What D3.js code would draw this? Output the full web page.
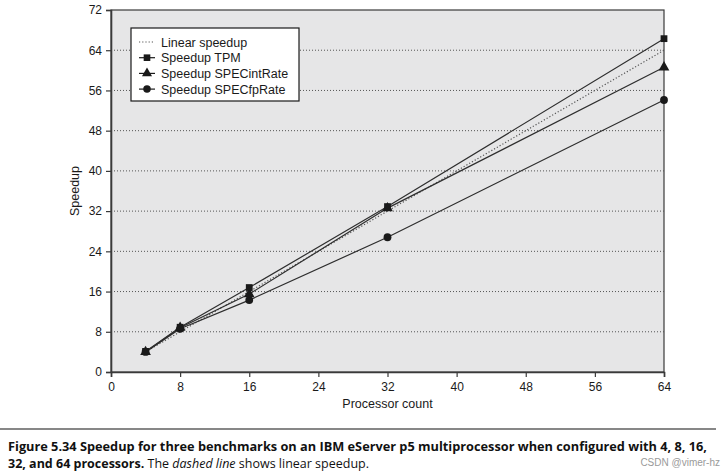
<!DOCTYPE html>
<html>
<head>
<meta charset="utf-8">
<script src="https://cdn.jsdelivr.net/npm/d3@7"></script>
<style>
  body { margin: 0; background: #fff; }
  svg text { font-family: "Liberation Sans", Arial, sans-serif; }
</style>
</head>
<body>
<svg id="chart" width="727" height="473"></svg>
<script>
// data
const procs = [4, 8, 16, 32, 64];
const linear = [4, 64];
const tpm = [4.1, 8.9, 16.8, 32.9, 66.3];
const specInt = [4.0, 8.8, 15.5, 32.6, 60.6];
const specFp = [4.0, 8.6, 14.3, 26.8, 54.1];
const xTicks = [0, 8, 16, 24, 32, 40, 48, 56, 64];
const yTicks = [0, 8, 16, 24, 32, 40, 48, 56, 64, 72];
const legendNames = ["Linear speedup", "Speedup TPM", "Speedup SPECintRate", "Speedup SPECfpRate"];

const svg = d3.select("#chart");
const pL = 111, pR = 664, pT = 10, pB = 372;

const x = d3.scaleLinear().domain([0, 64]).range([pL, pR]);
const y = d3.scaleLinear().domain([0, 72]).range([pB, pT]);

// plot background
svg.append("rect")
  .attr("x", pL).attr("y", pT)
  .attr("width", pR - pL).attr("height", pB - pT)
  .attr("fill", "#e6e6e7")
  .attr("stroke", "#3a3a3a").attr("stroke-width", 1.2);

// dotted grid
svg.append("g").selectAll("line")
  .data(yTicks.filter(d => d > 0 && d < 72))
  .enter().append("line")
  .attr("x1", pL).attr("x2", pR)
  .attr("y1", d => y(d)).attr("y2", d => y(d))
  .attr("stroke", "#555").attr("stroke-width", 1)
  .attr("stroke-dasharray", "1,2");

// axes
const xAxis = svg.append("g")
  .attr("transform", "translate(0," + pB + ")")
  .call(d3.axisBottom(x).tickValues(xTicks).tickSize(5).tickPadding(5));
const yAxis = svg.append("g")
  .attr("transform", "translate(" + pL + ",0)")
  .call(d3.axisLeft(y).tickValues(yTicks).tickSize(5).tickPadding(4));
[xAxis, yAxis].forEach(g => {
  g.select(".domain").attr("stroke", "#3a3a3a").attr("stroke-width", 1.6);
  g.selectAll(".tick line").attr("stroke", "#3a3a3a").attr("stroke-width", 1.2);
  g.selectAll(".tick text").attr("fill", "#1a1a1a")
    .style("font-family", "'Liberation Sans', Arial, sans-serif").style("font-size", "12px");
});

svg.append("text")
  .attr("x", (pL + pR) / 2).attr("y", 408)
  .attr("text-anchor", "middle").attr("fill", "#1a1a1a")
  .style("font-size", "12.5px").text("Processor count");
svg.append("text")
  .attr("transform", "translate(79," + ((pT + pB) / 2) + ") rotate(-90)")
  .attr("text-anchor", "middle").attr("fill", "#1a1a1a")
  .style("font-size", "12.5px").text("Speedup");

// lines
const line = d3.line().x(d => x(d[0])).y(d => y(d[1]));
svg.append("path")
  .attr("d", line([[4, linear[0]], [64, linear[1]]]))
  .attr("fill", "none").attr("stroke", "#555")
  .attr("stroke-width", 1.2).attr("stroke-dasharray", "1.2,2");

const series = [
  { vals: specFp, sym: d3.symbolCircle, size: 48 },
  { vals: specInt, sym: d3.symbolTriangle, size: 50 },
  { vals: tpm, sym: d3.symbolSquare, size: 46 }
];
series.forEach(s => {
  svg.append("path")
    .attr("d", line(procs.map((p, i) => [p, s.vals[i]])))
    .attr("fill", "none").attr("stroke", "#2e2e2e").attr("stroke-width", 1.2);
});
series.forEach(s => {
  svg.append("g").selectAll("path")
    .data(procs.map((p, i) => [p, s.vals[i]]))
    .enter().append("path")
    .attr("transform", d => "translate(" + x(d[0]) + "," + y(d[1]) + ")")
    .attr("d", d3.symbol().type(s.sym).size(s.size))
    .attr("fill", "#1a1a1a");
});

// legend
const lg = svg.append("g");
lg.append("rect")
  .attr("x", 131).attr("y", 28).attr("width", 168).attr("height", 73)
  .attr("fill", "#fff").attr("stroke", "#1a1a1a").attr("stroke-width", 1.2);
const legSyms = [null, d3.symbolSquare, d3.symbolTriangle, d3.symbolCircle];
legendNames.forEach((name, i) => {
  const ly = 42 + i * 15.7;
  lg.append("line")
    .attr("x1", 139).attr("x2", 155).attr("y1", ly).attr("y2", ly)
    .attr("stroke", i === 0 ? "#555" : "#1a1a1a")
    .attr("stroke-width", 1.2)
    .attr("stroke-dasharray", i === 0 ? "1.2,2" : null);
  if (legSyms[i]) {
    lg.append("path")
      .attr("transform", "translate(147," + ly + ")")
      .attr("d", d3.symbol().type(legSyms[i]).size(44))
      .attr("fill", "#1a1a1a");
  }
  lg.append("text")
    .attr("x", 161).attr("y", ly + 4.5)
    .attr("fill", "#1a1a1a").style("font-size", "12.5px")
    .text(name);
});

// caption
svg.append("line")
  .attr("x1", 0).attr("x2", 716).attr("y1", 429).attr("y2", 429)
  .attr("stroke", "#111").attr("stroke-width", 1.2);
const cap1 = svg.append("text")
  .attr("x", 8).attr("y", 451).attr("fill", "#111")
  .style("font-family", "'Open Sans', 'Noto Sans', sans-serif").style("font-size", "12px")
  .attr("textLength", 699).attr("lengthAdjust", "spacingAndGlyphs");
cap1.append("tspan").style("font-weight", "bold")
  .text("Figure 5.34  Speedup for three benchmarks on an IBM eServer p5 multiprocessor when configured with 4, 8, 16,");
const cap2 = svg.append("text")
  .attr("x", 8).attr("y", 468).attr("fill", "#111")
  .style("font-family", "'Open Sans', 'Noto Sans', sans-serif").style("font-size", "12px")
  .attr("textLength", 361).attr("lengthAdjust", "spacingAndGlyphs");
cap2.append("tspan").style("font-weight", "bold").text("32, and 64 processors.");
cap2.append("tspan").text(" The ");
cap2.append("tspan").style("font-style", "italic").text("dashed line");
cap2.append("tspan").text(" shows linear speedup.");

svg.append("text")
  .attr("x", 720).attr("y", 466).attr("text-anchor", "end")
  .attr("fill", "#9a9a9a").style("font-size", "10px")
  .text("CSDN @vimer-hz");
</script>
</body>
</html>
